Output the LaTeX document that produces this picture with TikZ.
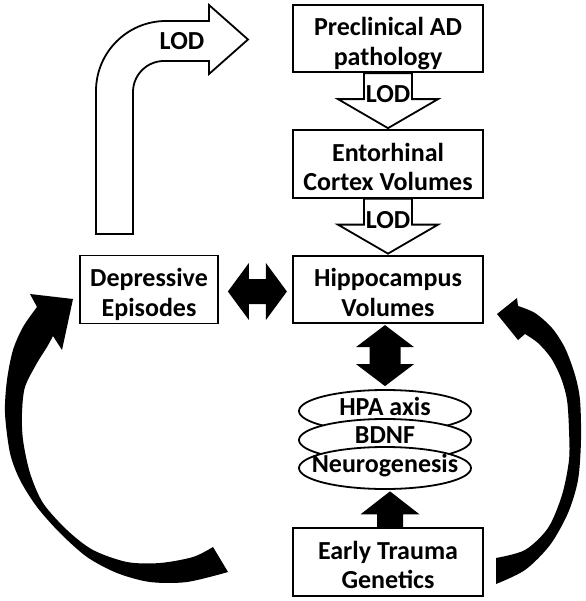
\documentclass[tikz,border=0pt]{standalone}
\usepackage{fontspec}
\setmainfont{Carlito}
\usepackage{tikz}
\usetikzlibrary{positioning, shapes.geometric}
\newcommand{\topstrut}{\rule{0pt}{31pt}}
\newcommand{\botstrut}{\rule[-7pt]{0pt}{7pt}}
\tikzset{
x=1pt, y=1pt, % one unit is one point
node distance=125.5pt, % centre to centre distance of the boxes in the right column
every node/.style={font=\bfseries\fontsize{26pt}{29.5pt}\selectfont},
block/.style={draw, line width=1.8pt, align=center, minimum width=190pt, minimum height=67pt, inner sep=0pt}, % the rectangular boxes
layer/.style={draw, fill=white, ellipse, line width=1.8pt, minimum width=172pt, minimum height=42pt, inner sep=0pt, text height=13pt, text depth=4pt}, % the stacked ellipses
lodarrow/.style={draw, fill=white, line width=1.8pt, line join=miter}, % white block arrows
fatarrow/.style={fill=black}, % black block arrows
}

\begin{document}
\begin{tikzpicture}
        \useasboundingbox (0,0) rectangle (585,-601);

        \node[block] (pre) at (388,-38.5) {\topstrut Preclinical AD\\pathology\botstrut};
        \node[block, below of=pre] (ent) {\topstrut Entorhinal\\Cortex Volumes\botstrut};
        \node[block, below of=ent] (hip) {\topstrut Hippocampus\\Volumes\botstrut};
        \node[block, left of=hip, node distance=239pt, minimum width=138pt, minimum height=68pt] (dep) {\topstrut Depressive\\Episodes\botstrut};
        \node[block, below of=hip, node distance=272.5pt] (et) {\topstrut Early Trauma\\Genetics\botstrut};

        \node[layer, below of=hip, node distance=121.5pt, xshift=-3pt] (hpa) {\makebox[0pt]{HPA axis}};
        \node[layer, below of=hpa, node distance=29pt, text depth=7pt] (bdnf) {\makebox[0pt]{BDNF}};
        \node[layer, below of=bdnf, node distance=28pt] (neuro) {\makebox[0pt]{Neurogenesis}};

        % LOD arrows down the right column
        \draw[lodarrow] (pre.south) ++(-24pt,0) -- ++(0,-26pt) -- ++(-26pt,0) -- ++(50pt,-29pt) -- ++(50pt,29pt) -- ++(-26pt,0) -- ++(0,26pt) -- cycle;
        \draw[lodarrow] (ent.south) ++(-24pt,0) -- ++(0,-26pt) -- ++(-26pt,0) -- ++(50pt,-29pt) -- ++(50pt,29pt) -- ++(-26pt,0) -- ++(0,26pt) -- cycle;
        \node (lod1) at ([yshift=-21pt]pre.south) {LOD};
        \node (lod2) at ([yshift=-21pt]ent.south) {LOD};

        % bent LOD arrow
        \draw[lodarrow] (96,-234) -- (96,-91) arc[start angle=180, end angle=90, radius=70pt] -- (209,-21) -- (209,-5) -- (248,-39.5) -- (209,-74) -- (209,-61) -- (164,-61) arc[start angle=90, end angle=180, radius=31pt] -- (133,-234) -- cycle;
        \node (lod0) at (182,-41) {LOD};

        % black double arrows
        \fill[fatarrow] ([xshift=9pt,yshift=-2pt]dep.east) -- ++(21pt,28.5pt) -- ++(0,-16pt) -- ++(17pt,0) -- ++(0,16pt) -- ++(21pt,-28.5pt) -- ++(-21pt,-28.5pt) -- ++(0,16pt) -- ++(-17pt,0) -- ++(0,-16pt) -- cycle;
        \fill[fatarrow] ([yshift=3pt]hpa.north) -- ++(-29pt,22pt) -- ++(13.5pt,0) -- ++(0,17pt) -- ++(-13.5pt,0) -- ++(29pt,22pt) -- ++(29pt,-22pt) -- ++(-13.5pt,0) -- ++(0,-17pt) -- ++(13.5pt,0) -- cycle;
        \fill[fatarrow] ([xshift=2pt]et.north) ++(-13pt,0) -- ++(0,13pt) -- ++(-16.5pt,0) -- ++(29.5pt,23pt) -- ++(29.5pt,-23pt) -- ++(-16.5pt,0) -- ++(0,-13pt) -- cycle;

        % curved arrows
        \fill[fatarrow] (497,-314) -- (517,-298) -- (518,-306)
          -- plot[smooth] coordinates {(518,-306) (535,-313) (552,-328) (565,-348) (575,-375) (580,-400) (581,-440) (578,-480) (568,-513) (550,-545) (525,-570) (496,-584)}
          -- (496,-558)
          -- plot[smooth] coordinates {(496,-558) (525,-550) (548,-528) (562,-495) (569,-460) (569,-430) (567,-400) (561,-378) (551,-358) (538,-343) (525,-334)}
          -- (518,-340) -- cycle;
        \fill[fatarrow] (30,-294) -- (73,-299) -- (62,-350) -- (53,-336)
          -- plot[smooth] coordinates {(53,-336) (47,-347) (37,-363) (25,-387) (22,-413) (23,-440) (30,-473) (43,-503) (67,-530) (93,-550) (127,-562) (160,-563) (193,-557) (213,-547)}
          -- (228,-572)
          -- plot[smooth] coordinates {(228,-572) (187,-582) (150,-582) (117,-573) (87,-557) (60,-533) (37,-507) (20,-480) (10,-453) (5,-413) (7,-380) (13,-350) (23,-327) (37,-307)}
          -- cycle;
      \end{tikzpicture}
\end{document}
